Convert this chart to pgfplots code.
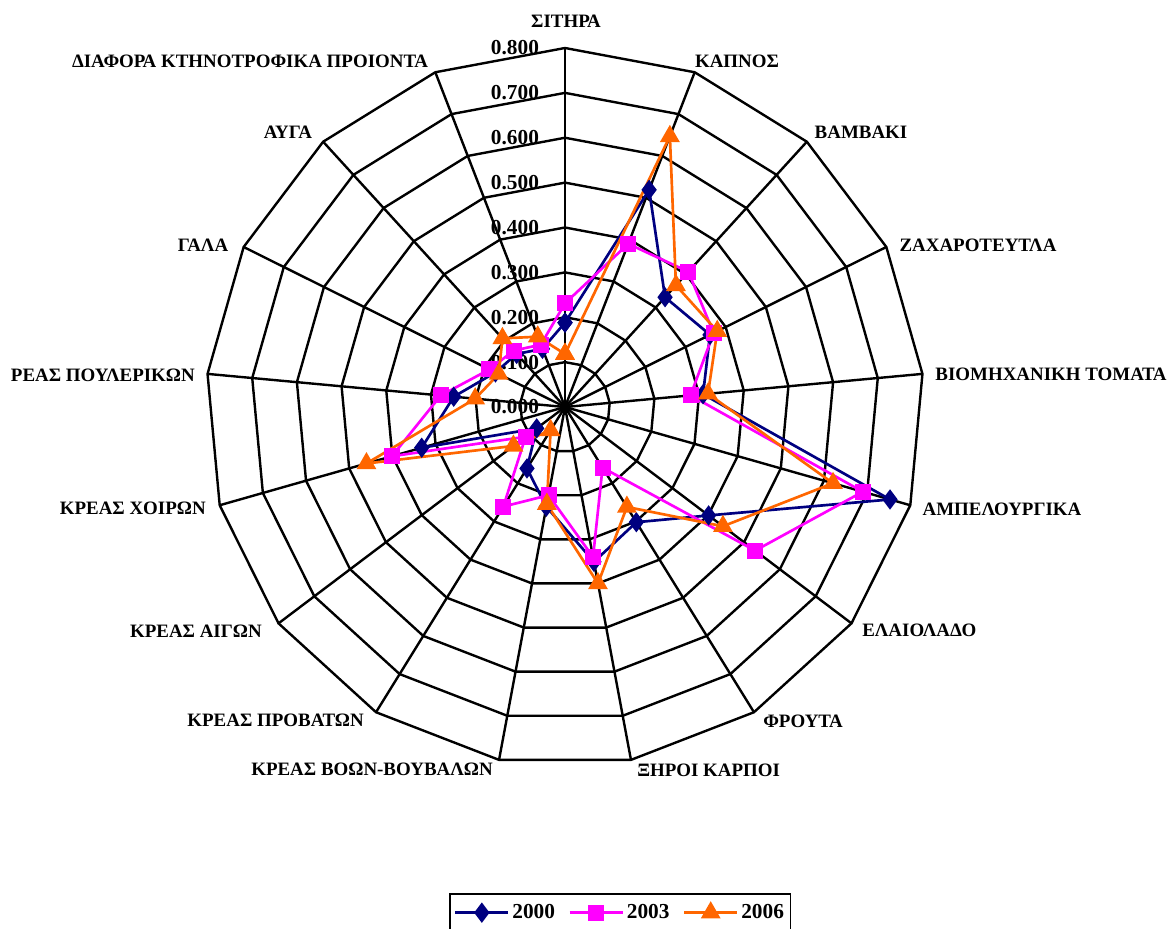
\documentclass[border=0pt]{standalone}
\usepackage{fontspec}
\setmainfont{Liberation Serif}
\usepackage{pgfplots}
\pgfplotsset{compat=1.18}
\usepackage{pgfplotstable}
\usepgfplotslibrary{polar}

\definecolor{cA}{RGB}{0,0,128}
\definecolor{cB}{RGB}{255,0,255}
\definecolor{cC}{RGB}{255,102,0}

% angle = 90 - k*360/17 (clockwise from the top), last row closes the polygon
\pgfplotstableread{
a        y2000 y2003 y2006
90       0.188 0.231 0.118
68.8235  0.519 0.390 0.647
47.6471  0.331 0.408 0.367
26.4706  0.361 0.370 0.379
5.2941   0.309 0.281 0.320
344.1176 0.753 0.690 0.621
322.9412 0.401 0.531 0.441
301.7647 0.302 0.159 0.262
280.5882 0.351 0.340 0.400
259.4118 0.226 0.200 0.220
238.2353 0.161 0.261 0.061
217.0588 0.079 0.110 0.144
195.8824 0.332 0.401 0.460
174.7059 0.249 0.278 0.201
153.5294 0.173 0.188 0.165
132.3529 0.160 0.170 0.207
111.1765 0.139 0.149 0.168
450      0.188 0.231 0.118
}\data

\newcommand{\catfont}{\fontsize{14.2}{16}\selectfont\bfseries}
\newcommand{\tickfont}{\fontsize{16}{18}\selectfont\bfseries}

\begin{document}
\begin{tikzpicture}
\begin{polaraxis}[
  hide axis,
  scale only axis,
  width=538.5pt, height=538.5pt,
  ymin=0, ymax=0.8,
  clip=false,
  legend columns=3,
  legend cell align=left,
  legend style={at={(0.577,-0.177)}, anchor=north, draw=black, line width=1.2pt,
    font=\tickfont, inner xsep=3pt, inner ysep=6pt,
    /tikz/every even column/.append style={column sep=8pt}},
  legend image code/.code={%
    \draw[mark repeat=2, mark phase=2, #1] plot coordinates {(0cm,0cm) (0.7cm,0cm) (1.4cm,0cm)};},
  gridline/.style={black, line width=1.8pt, forget plot},
  series/.style={line width=2pt, mark options={solid}},
]
% polygon rings
\pgfplotsinvokeforeach{0.1,0.2,0.3,0.4,0.5,0.6,0.7,0.8}{
  \addplot[gridline, line join=miter] table[x=a, y expr=#1] {\data};
}
% spokes
\pgfplotsinvokeforeach{90,68.8235,47.6471,26.4706,5.2941,344.1176,322.9412,301.7647,280.5882,259.4118,238.2353,217.0588,195.8824,174.7059,153.5294,132.3529,111.1765}{
  \addplot[gridline] coordinates {(#1,0) (#1,0.8)};
}
% radial tick labels
\node[anchor=east, font=\tickfont, xshift=-16pt] at (axis cs:90,0)   {0.000};
\node[anchor=east, font=\tickfont, xshift=-16pt] at (axis cs:90,0.1) {0.100};
\node[anchor=east, font=\tickfont, xshift=-16pt] at (axis cs:90,0.2) {0.200};
\node[anchor=east, font=\tickfont, xshift=-16pt] at (axis cs:90,0.3) {0.300};
\node[anchor=east, font=\tickfont, xshift=-16pt] at (axis cs:90,0.4) {0.400};
\node[anchor=east, font=\tickfont, xshift=-16pt] at (axis cs:90,0.5) {0.500};
\node[anchor=east, font=\tickfont, xshift=-16pt] at (axis cs:90,0.6) {0.600};
\node[anchor=east, font=\tickfont, xshift=-16pt] at (axis cs:90,0.7) {0.700};
\node[anchor=east, font=\tickfont, xshift=-16pt] at (axis cs:90,0.8) {0.800};

\addplot[series, color=cA, mark=diamond*, mark size=6pt] table[x=a, y=y2000] {\data};
\addlegendentry{2000}
\addplot[series, color=cB, mark=square*, mark size=5pt] table[x=a, y=y2003] {\data};
\addlegendentry{2003}
\addplot[series, color=cC, mark=triangle*, mark size=6.6pt] table[x=a, y=y2006] {\data};
\addlegendentry{2006}

\coordinate (c) at (axis cs:0,0);
\end{polaraxis}

% category labels, positioned in image pixels (origin top left)
\begin{scope}[x=0.75pt, y=-0.75pt, shift={(c)}, xshift=-423.75pt, yshift=305.25pt]
\tikzset{cat/.style={font=\catfont, inner sep=0pt}}
\node[cat] at (566,21)  {ΣΙΤΗΡΑ};
\node[cat] at (737,61)  {ΚΑΠΝΟΣ};
\node[cat] at (861,132) {ΒΑΜΒΑΚΙ};
\node[cat] at (978,245) {ΖΑΧΑΡΟΤΕΥΤΛΑ};
\node[cat] at (1051,374) {ΒΙΟΜΗΧΑΝΙΚΗ ΤΟΜΑΤΑ};
\node[cat] at (1002,509) {ΑΜΠΕΛΟΥΡΓΙΚΑ};
\node[cat, anchor=west] at (862,630) {ΕΛΑΙΟΛΑΔΟ};
\node[cat, anchor=west] at (763,721) {ΦΡΟΥΤΑ};
\node[cat, anchor=west] at (637,770) {ΞΗΡΟΙ ΚΑΡΠΟΙ};
\node[cat, anchor=east] at (493,769) {ΚΡΕΑΣ ΒΟΩΝ-ΒΟΥΒΑΛΩΝ};
\node[cat, anchor=east] at (364,720) {ΚΡΕΑΣ ΠΡΟΒΑΤΩΝ};
\node[cat, anchor=east] at (262,631) {ΚΡΕΑΣ ΑΙΓΩΝ};
\node[cat, anchor=east] at (206,508) {ΚΡΕΑΣ ΧΟΙΡΩΝ};
\node[cat, anchor=east] at (195,375) {ΡΕΑΣ ΠΟΥΛΕΡΙΚΩΝ};
\node[cat] at (203,245) {ΓΑΛΑ};
\node[cat] at (288,132) {ΑΥΓΑ};
\node[cat] at (250,61)  {ΔΙΑΦΟΡΑ ΚΤΗΝΟΤΡΟΦΙΚΑ ΠΡΟΙΟΝΤΑ};
\pgfresetboundingbox
\useasboundingbox (0,0) rectangle (1169,928);
\end{scope}
\end{tikzpicture}
\end{document}
